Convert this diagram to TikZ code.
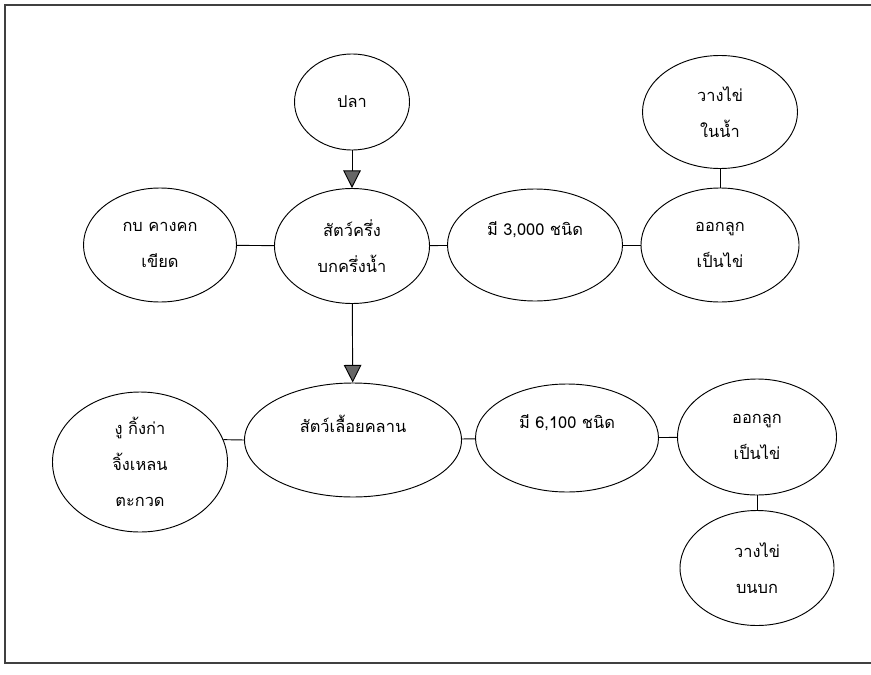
\documentclass[tikz,border=0pt]{standalone}
\usepackage{fontspec}
\usepackage{tikz}
\usetikzlibrary{shapes.geometric,arrows.meta}
\newfontfamily\thaifont[Script=Thai]{Loma}
\tikzset{blob/.style={draw,ellipse,line width=0.8pt,inner sep=0pt,align=center,
    font=\thaifont\fontsize{14}{31}\selectfont},
  lift/.style={text depth=28pt},
  link/.style={line width=0.8pt},
  fall/.style={-{Triangle[length=15pt,width=15pt,fill=black!60]}},
  frame/.style={line width=1.4pt,black!75}}

\begin{document}
\begin{tikzpicture}[x=0.03cm,y=-0.03cm]
  \newcommand{\twoln}[2]{#1\\#2}
  \useasboundingbox (0,0) rectangle (871,675);
  \draw[frame] (871,5) -- (5,5) -- (5,663) -- (871,663);
  % amphibians
  \node[blob,minimum width=3.45cm,minimum height=2.88cm] (pla) at (352,102) {ปลา};
  \node[blob,minimum width=4.65cm,minimum height=3.39cm] (eggw) at (720,112) {\twoln{วางไข่}{ในน้ำ}};
  \node[blob,minimum width=4.59cm,minimum height=3.42cm] (frog) at (160,245) {\twoln{กบ คางคก}{เขียด}};
  \node[blob,minimum width=4.65cm,minimum height=3.45cm] (amph) at (352,246) {\twoln{สัตว์ครึ่ง}{บกครึ่งน้ำ}};
  \node[blob,lift,minimum width=5.25cm,minimum height=3.36cm] (spA) at (535,245) {มี 3,000 ชนิด};
  \node[blob,minimum width=4.74cm,minimum height=3.42cm] (layA) at (720,245) {\twoln{ออกลูก}{เป็นไข่}};
  % reptiles
  \node[blob,minimum width=5.25cm,minimum height=4.2cm] (snake) at (140,462) {งู กิ้งก่า\\จิ้งเหลน\\ตะกวด};
  \node[blob,lift,minimum width=6.51cm,minimum height=3.42cm] (rept) at (353,440) {สัตว์เลื้อยคลาน};
  \node[blob,lift,minimum width=5.49cm,minimum height=3.24cm] (spB) at (567,438) {มี 6,100 ชนิด};
  \node[blob,minimum width=4.77cm,minimum height=3.48cm] (layB) at (757,437) {\twoln{ออกลูก}{เป็นไข่}};
  \node[blob,minimum width=4.62cm,minimum height=3.45cm] (eggl) at (757,568) {\twoln{วางไข่}{บนบก}};
  \draw[link,fall] (pla) -- (amph);
  \draw[link] (frog) -- (amph);
  \draw[link] (amph) -- (spA);
  \draw[link] (spA) -- (layA);
  \draw[link] (eggw) -- (layA);
  \draw[link,fall] (amph) -- (rept);
  \draw[link] (snake.15) -- (rept.west);
  \draw[link] (rept) -- (spB);
  \draw[link] (spB) -- (layB);
  \draw[link] (layB) -- (eggl);
\end{tikzpicture}
\end{document}
